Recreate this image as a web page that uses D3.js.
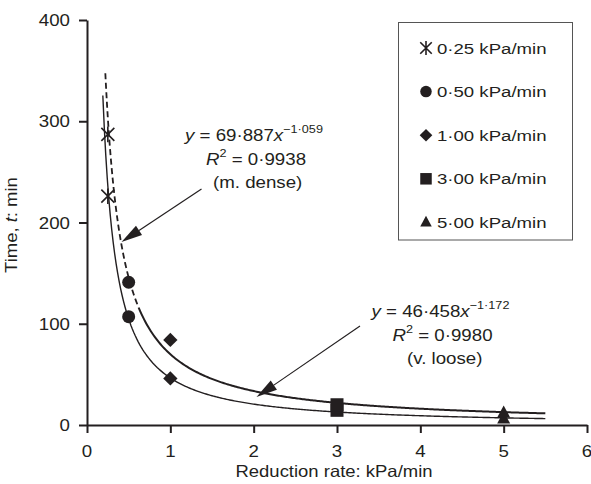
<!DOCTYPE html>
<html>
<head>
<meta charset="utf-8">
<script src="https://cdn.jsdelivr.net/npm/d3@7"></script>
<style>
  html, body { margin: 0; padding: 0; background: #fff; }
  svg { display: block; font-family: "Liberation Sans", Arial, Helvetica, sans-serif; }
</style>
</head>
<body>
<svg id="chart" width="591" height="484"></svg>
<script>
// Reduction rates (kPa/min) and measured times (min) for the two sample densities
const rates = [0.25, 0.5, 1, 3, 5];
const rateLabels = ["0·25 kPa/min", "0·50 kPa/min", "1·00 kPa/min", "3·00 kPa/min", "5·00 kPa/min"];
const symbols = ["star", "circle", "diamond", "square", "triangle"];
const denseTimes = [287, 141, 84, 20, 12];   // m. dense
const looseTimes = [226, 107, 46, 14.5, 6];  // v. loose

// Power-law fits t = a * rate^b
const denseFit = { a: 69.887, b: -1.059, r2: "0·9938", name: "(m. dense)", coef: "69·887", exp: "−1·059", from: 0.22 };
const looseFit = { a: 46.458, b: -1.172, r2: "0·9980", name: "(v. loose)", coef: "46·458", exp: "−1·172", from: 0.19 };
const fitTo = 5.5;

const xTicks = [0, 1, 2, 3, 4, 5, 6];
const yTicks = [0, 100, 200, 300, 400];

const ink = "#231f20";
const svg = d3.select("#chart");

const x = d3.scaleLinear().domain([0, 6]).range([87, 587]);
const y = d3.scaleLinear().domain([0, 400]).range([425, 20]);

// text helper: Helvetica-like face, slightly widened
function txt(g, px, py, anchor, size, sx) {
  return g.append("text")
    .attr("transform", `translate(${px},${py}) scale(${sx},1)`)
    .attr("text-anchor", anchor)
    .attr("font-size", size)
    .attr("fill", ink);
}

// Axes
const xAxis = svg.append("g").attr("transform", `translate(0,${y(0)})`)
  .call(d3.axisBottom(x).tickValues(xTicks).tickSize(8).tickSizeOuter(0).tickFormat(d3.format("d")));
const yAxis = svg.append("g").attr("transform", `translate(${x(0)},0)`)
  .call(d3.axisLeft(y).tickValues(yTicks).tickSize(8).tickSizeOuter(0).tickFormat(d3.format("d")));
[xAxis, yAxis].forEach(a => {
  a.select(".domain").attr("stroke", ink).attr("stroke-width", 2);
  a.selectAll(".tick line").attr("stroke", ink).attr("stroke-width", 2);
  a.selectAll(".tick text").remove();
});
xTicks.forEach(v => txt(svg, x(v), 457, "middle", 17, 1.1).text(v));
yTicks.forEach(v => txt(svg, 70, y(v) + 6, "end", 17, 1.1).text(v));

// Axis titles
txt(svg, 334, 477, "middle", 16.5, 1.12).text("Reduction rate: kPa/min");
const yt = svg.append("text")
  .attr("transform", `translate(17,225) rotate(-90) scale(1.12,1)`)
  .attr("text-anchor", "middle").attr("font-size", 16.5).attr("fill", ink);
yt.append("tspan").text("Time, ");
yt.append("tspan").attr("font-style", "italic").text("t");
yt.append("tspan").text(": min");

// Fitted curves
function curvePts(f, lo, hi) {
  const n = 300;
  return d3.range(n + 1).map(i => {
    const r = lo + (hi - lo) * i / n;
    return [r, f.a * Math.pow(r, f.b)];
  });
}
const line = d3.line().x(d => x(d[0])).y(d => y(d[1]));

svg.append("path").attr("d", line(curvePts(looseFit, looseFit.from, fitTo)))
  .attr("fill", "none").attr("stroke", ink).attr("stroke-width", 1.4);
// dense curve: dashed on the steep limb, continuous over the flat tail
svg.append("path").attr("d", line(curvePts(denseFit, denseFit.from, 0.62)))
  .attr("fill", "none").attr("stroke", ink).attr("stroke-width", 1.8)
  .attr("stroke-dasharray", "6,3.5");
svg.append("path").attr("d", line(curvePts(denseFit, 0.62, fitTo)))
  .attr("fill", "none").attr("stroke", ink).attr("stroke-width", 2);

// Marker symbols
function marker(g, kind, cx, cy, s) {
  if (kind === "star") {
    const h = s * 0.5, v = s * 0.6;
    g.append("path")
      .attr("d", `M${cx - h},${cy - h}L${cx + h},${cy + h}M${cx - h},${cy + h}L${cx + h},${cy - h}M${cx},${cy - v}L${cx},${cy + v}`)
      .attr("stroke", ink).attr("stroke-width", 1.6).attr("fill", "none");
  } else if (kind === "circle") {
    g.append("circle").attr("cx", cx).attr("cy", cy).attr("r", s * 0.5).attr("fill", ink);
  } else if (kind === "diamond") {
    const h = s * 0.55;
    g.append("path").attr("d", `M${cx},${cy - h}L${cx + h},${cy}L${cx},${cy + h}L${cx - h},${cy}Z`).attr("fill", ink);
  } else if (kind === "square") {
    const h = s * 0.5;
    g.append("rect").attr("x", cx - h).attr("y", cy - h).attr("width", 2 * h).attr("height", 2 * h).attr("fill", ink);
  } else if (kind === "triangle") {
    const h = s * 0.5;
    g.append("path").attr("d", `M${cx},${cy - h * 1.15}L${cx + h},${cy + h * 0.7}L${cx - h},${cy + h * 0.7}Z`).attr("fill", ink);
  }
}

const pts = svg.append("g");
rates.forEach((r, i) => {
  marker(pts, symbols[i], x(r), y(looseTimes[i]), 13);
  marker(pts, symbols[i], x(r), y(denseTimes[i]), 13);
});

// Legend
const lg = svg.append("g");
lg.append("rect").attr("x", 398.5).attr("y", 22.5).attr("width", 174).attr("height", 217.5)
  .attr("fill", "#fff").attr("stroke", "#555").attr("stroke-width", 1);
rateLabels.forEach((lab, i) => {
  const cy = 48 + i * 43.6;
  marker(lg, symbols[i], 426, cy, 11.5);
  txt(lg, 437, cy + 5.5, "start", 15.5, 1.2).text(lab);
});

// Fit annotations: equation, R² and sample label on three lines
function annotation(f, xEq, yEq, xR2, xName) {
  const g = svg.append("g");
  const t1 = txt(g, xEq, yEq, "start", 17, 1.1);
  t1.append("tspan").attr("font-style", "italic").text("y");
  t1.append("tspan").text(" = " + f.coef);
  t1.append("tspan").attr("font-style", "italic").text("x");
  t1.append("tspan").attr("font-size", 11.5).attr("dy", -8).text(f.exp);
  const t2 = txt(g, xR2, yEq + 24, "start", 17, 1.1);
  t2.append("tspan").attr("font-style", "italic").text("R");
  t2.append("tspan").attr("font-size", 11.5).attr("dy", -8).text("2");
  t2.append("tspan").attr("dy", 8).text(" = " + f.r2);
  txt(g, xName, yEq + 47, "start", 17, 1.1).text(f.name);
}
annotation(denseFit, 185, 141, 206, 213);
annotation(looseFit, 371.5, 317, 392.5, 407);

// Leader arrows
function arrow(x1, y1, x2, y2) {
  const ang = Math.atan2(y2 - y1, x2 - x1);
  const L = 21, W = 5.5;
  const bx = x2 - L * Math.cos(ang), by = y2 - L * Math.sin(ang);
  const nx = -Math.sin(ang) * W, ny = Math.cos(ang) * W;
  svg.append("line").attr("x1", x1).attr("y1", y1).attr("x2", bx).attr("y2", by)
    .attr("stroke", ink).attr("stroke-width", 1.2);
  svg.append("path").attr("d", `M${x2},${y2}L${bx + nx},${by + ny}L${bx - nx},${by - ny}Z`).attr("fill", ink);
}
arrow(201.5, 189, 121.5, 242);
arrow(360, 326, 256.5, 397);
</script>
</body>
</html>
